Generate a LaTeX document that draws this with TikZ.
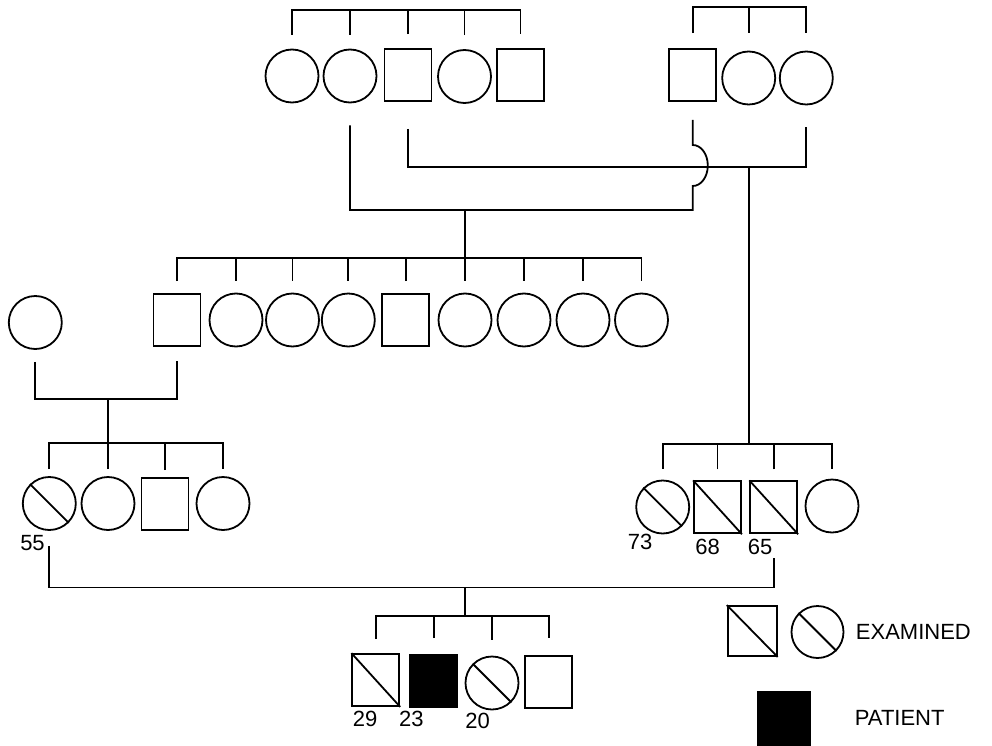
\documentclass[tikz,border=0pt]{standalone}
\usepackage{fontspec}
\setmainfont{Liberation Sans}
\usetikzlibrary{calc}
\begin{document}
\begin{tikzpicture}[x=1pt,y=-1pt,line width=1.8pt,
  fem/.style={circle,draw,minimum size=53pt,inner sep=0pt},
  mal/.style={rectangle,draw,minimum width=47pt,minimum height=52pt,inner sep=0pt},
  pat/.style={mal,fill=black},
  lbl/.style={font=\fontsize{22}{26}\selectfont,inner sep=0pt},
  leg/.style={font=\fontsize{22}{26}\selectfont,inner sep=0pt,anchor=west}]
\useasboundingbox (0,0) rectangle (992,746);

% ---------- generation I ----------
\node[fem] (a1) at (292,76) {};
\node[fem] (a2) at (350,76) {};
\node[mal] (a3) at (408,75) {};
\node[fem] (a4) at (464.5,76.5) {};
\node[mal] (a5) at (520.5,75) {};
\node[mal] (b1) at (692.8,75) {};
\node[fem] (b2) at (748.7,78) {};
\node[fem] (b3) at (806.3,78) {};
\coordinate (ya) at (0,10);
\coordinate (yb) at (0,7);
\draw ($(a1.north)+(0,-14)$) -- (a1 |- ya) -- (a5 |- ya) -- ($(a5.north)+(0,-14)$);
\foreach \n in {a2,a3,a4} \draw ($(\n.north)+(0,-14)$) -- (\n |- ya);
\draw ($(b1.north)+(0,-15)$) -- (b1 |- yb) -- (b3 |- yb) -- ($(b3.north)+(0,-18)$);
\draw ($(b2.north)+(0,-18)$) -- (b2 |- yb);

% marriages of generation I
\coordinate (m1) at (0,210);
\coordinate (m2) at (0,166.7);
\coordinate (jt) at (0,145);
\draw ($(a2.south)+(0,22)$) -- (a2 |- m1) -- (b1 |- m1) -- ($(b1 |- jt)+(0,41)$)
      arc[start angle=-90,end angle=90,x radius=15pt,y radius=20.5pt]
      -- ($(b1.south)+(0,18)$);
\draw ($(a3.south)+(0,27)$) -- (a3 |- m2) -- (b3 |- m2) -- ($(b3.south)+(0,22)$);

% ---------- generation II ----------
\node[fem] (c0) at (35.3,322.5) {};
\node[mal] (c1) at (177,320) {};
\node[fem] (c2) at (236,320) {};
\node[fem] (c3) at (292.5,320) {};
\node[fem] (c4) at (348.3,320) {};
\node[mal] (c5) at (405.8,320) {};
\node[fem] (c6) at (465,320) {};
\node[fem] (c7) at (524,320) {};
\node[fem] (c8) at (583,320) {};
\node[fem] (c9) at (641.5,320) {};
\coordinate (yc) at (0,258);
\draw ($(c1.north)+(0,-12)$) -- (c1 |- yc) -- (c9 |- yc) -- ($(c9.north)+(0,-12)$);
\foreach \n in {c2,c3,c4,c5,c6,c7,c8} \draw ($(\n.north)+(0,-12)$) -- (\n |- yc);
\draw (c6 |- m1) -- (c6 |- yc);

% marriage c0 x c1
\coordinate (m3) at (0,399.3);
\draw ($(c0.south)+(0,12)$) -- (c0 |- m3) -- (c1 |- m3) -- ($(c1.south)+(0,14)$);
\coordinate (yd) at (0,443.3);
\coordinate (dk) at (107.7,0);
\draw (dk |- m3) -- (dk |- yd);

% ---------- generation III ----------
\node[fem] (d1) at (49.3,503.5) {};
\node[fem] (d2) at (108,503.5) {};
\node[mal] (d3) at (165,504) {};
\node[fem] (d4) at (223,503.5) {};
\draw (d1.north west) -- (d1.south east);
\draw ($(d1.north)+(0,-7)$) -- (d1 |- yd) -- (d4 |- yd) -- ($(d4.north)+(0,-7)$);
\foreach \n in {d2,d3} \draw ($(\n.north)+(0,-7)$) -- (\n |- yd);

\node[fem] (e1) at (662.7,507) {};
\node[mal] (e2) at (717.5,507.3) {};
\node[mal] (e3) at (773.7,507.3) {};
\node[fem] (e4) at (832,506) {};
\foreach \n in {e1,e2,e3} \draw (\n.north west) -- (\n.south east);
\coordinate (ye) at (0,444.3);
\draw ($(e1.north)+(0,-11)$) -- (e1 |- ye) -- (e4 |- ye) -- ($(e4.north)+(0,-10)$);
\foreach \n in {e2,e3} \draw ($(\n.north)+(0,-11)$) -- (\n |- ye);
\draw (b2 |- m2) -- (b2 |- ye);

\node[lbl] (n55) at (32.5,543) {55};
\node[lbl] (n73) at (640,542) {73};
\node[lbl] (n68) at (707.5,546.7) {68};
\node[lbl] (n65) at (760,546.7) {65};

% marriage d1 x e3
\coordinate (m4) at (0,587.5);
\draw ($(d1.south)+(0,15)$) -- (d1 |- m4) -- (e3 |- m4) -- ($(e3.south)+(0,24)$);

% ---------- generation IV ----------
\node[mal] (f1) at (375.8,680) {};
\node[pat] (f2) at (433.7,681) {};
\node[fem] (f3) at (492,683) {};
\node[mal] (f4) at (548.8,682) {};
\foreach \n in {f1,f3} \draw (\n.north west) -- (\n.south east);
\coordinate (yf) at (0,616);
\coordinate (fk) at (465,0);
\draw (fk |- m4) -- (fk |- yf);
\draw ($(f1.north)+(0,-14)$) -- (f1 |- yf) -- (f4 |- yf) -- ($(f4.north)+(0,-17)$);
\foreach \n in {f2,f3} \draw ($(\n.north)+(0,-16)$) -- (\n |- yf);

\node[lbl] (n29) at (365,719) {29};
\node[lbl] (n23) at (411.3,719) {23};
\node[lbl] (n20) at (477.7,720.5) {20};

% ---------- legend ----------
\node[mal,minimum width=49pt,minimum height=50pt] (g1) at (752.2,631) {};
\node[fem,minimum size=52pt] (g2) at (817.5,632) {};
\foreach \n in {g1,g2} \draw (\n.north west) -- (\n.south east);
\node[leg] (t1) at (855,632) {EXAMINED};
\node[pat,minimum width=51.7pt,minimum height=53.3pt] (g3) at (784.2,718.3) {};
\node[leg] (t2) at (854,718) {PATIENT};
\end{tikzpicture}
\end{document}
